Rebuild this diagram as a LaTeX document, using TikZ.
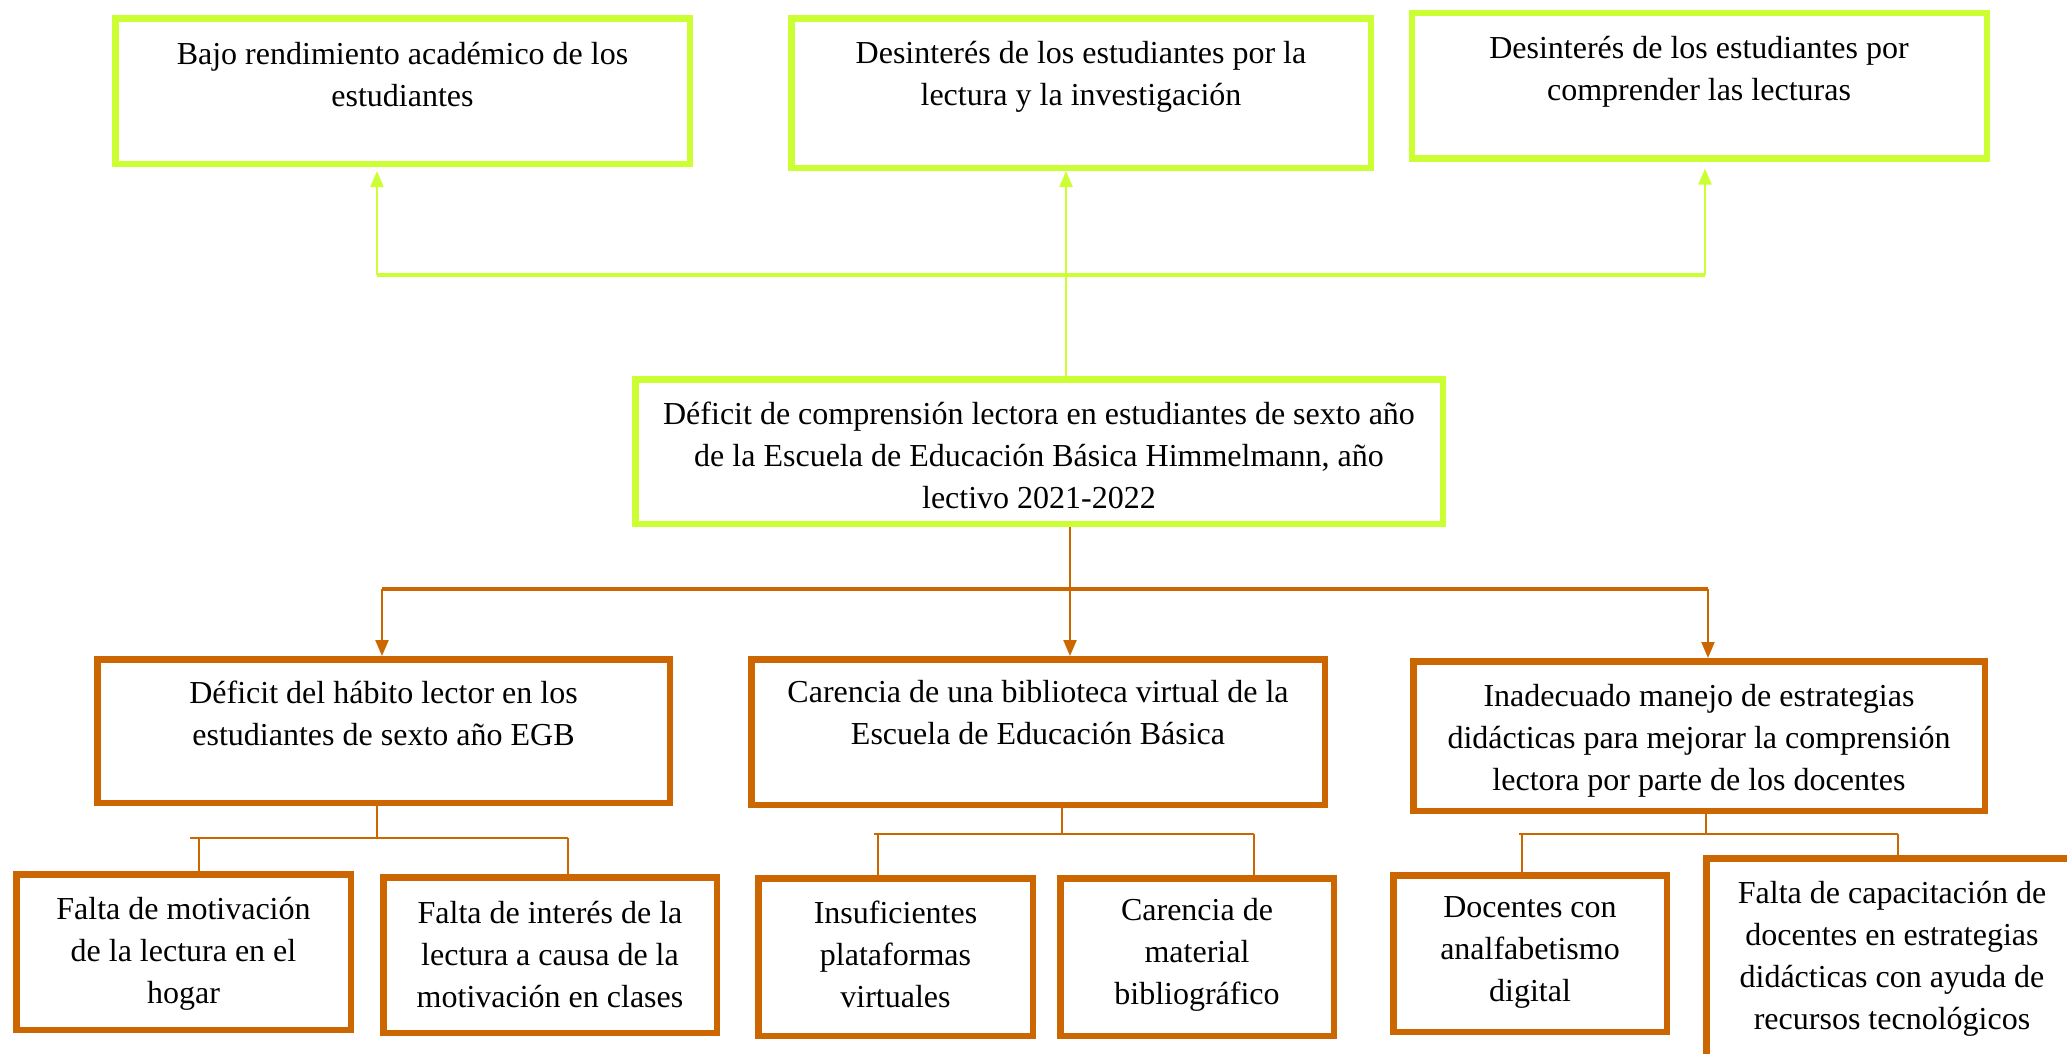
\documentclass[tikz,border=0pt]{standalone}
\usepackage{fontspec}
\setmainfont{Liberation Serif}
\usetikzlibrary{arrows.meta}
\definecolor{limeg}{RGB}{204,255,51}
\definecolor{ocre}{RGB}{204,102,0}
\begin{document}
\begin{tikzpicture}[x=1pt,y=-1pt,
  gbox/.style={draw=limeg, line width=6.5pt, rectangle, inner sep=0pt},
  obox/.style={draw=ocre, line width=6.5pt, rectangle, inner sep=0pt},
  txt/.style={align=center, font=\fontsize{32}{42}\selectfont, inner sep=0pt},
  gline/.style={draw=limeg, line width=3.5pt},
  gthin/.style={draw=limeg, line width=2.2pt},
  garrow/.style={gthin, -{Triangle[length=16pt,width=13pt]}},
  oline/.style={draw=ocre, line width=4pt},
  othin/.style={draw=ocre, line width=2.3pt},
  oarrow/.style={othin, -{Triangle[length=16pt,width=13pt]}},
]
\useasboundingbox (0,0) rectangle (2067,1053);
\clip (0,0) rectangle (2067,1053);
\fill[white] (0,0) rectangle (2067,1053);

% top boxes (effects)
\node[gbox, minimum width=574.5pt, minimum height=145.5pt] (t1) at (402.5,91) {};
\node[txt] (t1t) at (402.5,75) {Bajo rendimiento académico de los\\estudiantes};
\node[gbox, minimum width=579.5pt, minimum height=149.5pt] (t2) at (1081,93) {};
\node[txt] (t2t) at (1081,76.5) {Desinterés de los estudiantes por la\\lectura y la investigación};
\node[gbox, minimum width=575pt, minimum height=145.5pt] (t3) at (1699.25,85.5) {};
\node[txt] (t3t) at (1699,71.5) {Desinterés de los estudiantes por\\comprender las lecturas};

% central problem
\node[gbox, minimum width=807.5pt, minimum height=144.5pt] (m) at (1039,451.5) {};
\node[txt] (mt) at (1039,455) {Déficit de comprensión lectora en estudiantes de sexto año\\de la Escuela de Educación Básica Himmelmann, año\\lectivo 2021-2022};

% causes
\node[obox, minimum width=572.5pt, minimum height=143.5pt] (b1) at (383.5,731) {};
\node[txt] (b1t) at (383.5,713) {Déficit del hábito lector en los\\estudiantes de sexto año EGB};
\node[obox, minimum width=573.5pt, minimum height=145.5pt] (b2) at (1038,732) {};
\node[txt] (b2t) at (1038,713) {Carencia de una biblioteca virtual de la\\Escuela de Educación Básica};
\node[obox, minimum width=571.5pt, minimum height=149.5pt] (b3) at (1699,736) {};
\node[txt] (b3t) at (1699,741) {Inadecuado manejo de estrategias\\didácticas para mejorar la comprensión\\lectora por parte de los docentes};

% sub-causes
\node[obox, minimum width=334.5pt, minimum height=155.5pt] (c1) at (183.5,952) {};
\node[txt] (c1t) at (183.5,954) {Falta de motivación\\de la lectura en el\\hogar};
\node[obox, minimum width=333.5pt, minimum height=155.5pt] (c2) at (550,955) {};
\node[txt] (c2t) at (550,954.5) {Falta de interés de la\\lectura a causa de la\\motivación en clases};
\node[obox, minimum width=274.5pt, minimum height=157.5pt] (c3) at (895.5,957) {};
\node[txt] (c3t) at (895.5,954) {Insuficientes\\plataformas\\virtuales};
\node[obox, minimum width=273.5pt, minimum height=157.5pt] (c4) at (1197,957) {};
\node[txt] (c4t) at (1197,954.5) {Carencia de\\material\\bibliográfico};
\node[obox, minimum width=273.5pt, minimum height=156.5pt] (c5) at (1530,953.5) {};
\node[txt] (c5t) at (1530,952.5) {Docentes con\\analfabetismo\\digital};
\node[obox, minimum width=370.5pt, minimum height=213.5pt] (c6) at (1891.5,965) {};
\node[txt] (c6t) at (1892,959) {Falta de capacitación de\\docentes en estrategias\\didácticas con ayuda de\\recursos tecnológicos};

% green connectors (effects)
\coordinate (gl) at (377,275);
\coordinate (gr) at (1705,275);
\coordinate (gm) at (1066,275);
\draw[gline] (gl) -- (gr);
\draw[garrow] (gl) -- ([yshift=-4pt]t1.south -| gl);
\draw[garrow] (m.north -| gm) -- (t2.south -| gm);
\draw[garrow] (gr) -- ([yshift=-7pt]t3.south -| gr);

% orange connectors (causes)
\coordinate (ol) at (382,589);
\coordinate (or) at (1708,589);
\coordinate (om) at (1070,589);
\draw[oline] (ol) -- (or);
\draw[oarrow] (m.south -| om) -- (b2.north -| om);
\draw[oarrow] (ol) -- (b1.north -| ol);
\draw[oarrow] (or) -- (b3.north -| or);

% sub-cause connectors
\coordinate (j1) at (377,838);
\coordinate (j1l) at (190,838);
\coordinate (j1r) at (568,838);
\draw[othin] (b1.south -| j1) -- (j1);
\draw[othin] (j1l) -- (j1r);
\draw[othin] (199,838) -- (c1.north -| 199,0);
\draw[othin] (j1r) -- (c2.north -| j1r);

\coordinate (j2) at (1062,834);
\coordinate (j2l) at (874,834);
\coordinate (j2r) at (1254,834);
\draw[othin] (b2.south -| j2) -- (j2);
\draw[othin] (j2l) -- (j2r);
\draw[othin] (878,834) -- (c3.north -| 878,0);
\draw[othin] (j2r) -- (c4.north -| j2r);

\coordinate (j3) at (1706,834);
\coordinate (j3l) at (1519,834);
\coordinate (j3r) at (1898,834);
\draw[othin] (b3.south -| j3) -- (j3);
\draw[othin] (j3l) -- (j3r);
\draw[othin] (1522,834) -- (c5.north -| 1522,0);
\draw[othin] (j3r) -- (c6.north -| j3r);
\end{tikzpicture}
\end{document}
